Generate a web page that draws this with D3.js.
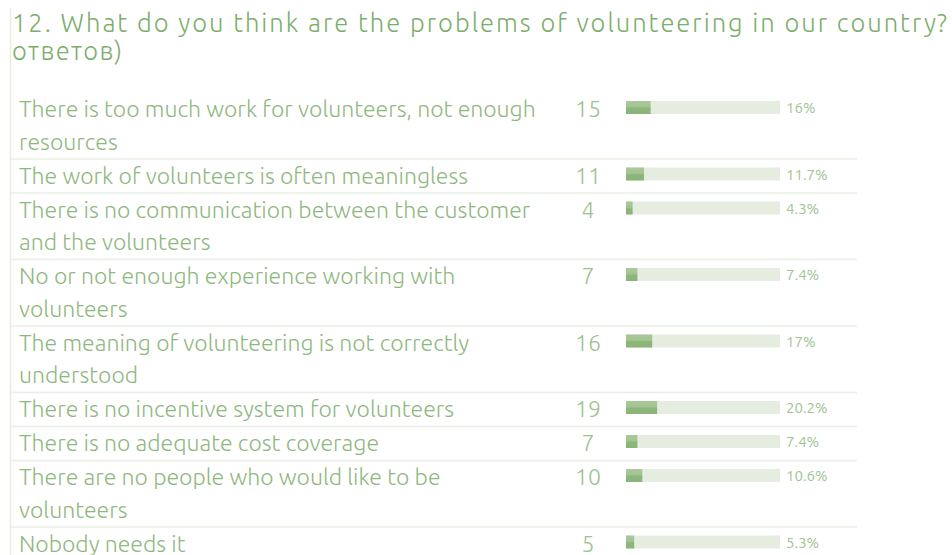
<!DOCTYPE html>
<html><head><meta charset="utf-8">
<script src="https://cdn.jsdelivr.net/npm/d3@7"></script>
<style>
html,body{margin:0;padding:0;background:#fff;}
svg{display:block;}
</style></head>
<body>
<script>
const titleLines = ["12. What do you think are the problems of volunteering in our country?", "ответов)"];
const categories = [
  "There is too much work for volunteers, not enough\nresources",
  "The work of volunteers is often meaningless",
  "There is no communication between the customer\nand the volunteers",
  "No or not enough experience working with\nvolunteers",
  "The meaning of volunteering is not correctly\nunderstood",
  "There is no incentive system for volunteers",
  "There is no adequate cost coverage",
  "There are no people who would like to be\nvolunteers",
  "Nobody needs it"
];
const counts = [15, 11, 4, 7, 16, 19, 7, 10, 5];
const percents = [16, 11.7, 4.3, 7.4, 17, 20.2, 7.4, 10.6, 5.3];
const percentLabels = ["16%", "11.7%", "4.3%", "7.4%", "17%", "20.2%", "7.4%", "10.6%", "5.3%"];

const W = 952, H = 555;
const svg = d3.select("body").append("svg").attr("width", W).attr("height", H);
const defs = svg.append("defs");
const grad = defs.append("linearGradient").attr("id","barGrad").attr("x1",0).attr("y1",0).attr("x2",0).attr("y2",1);
grad.append("stop").attr("offset","0%").attr("stop-color","#a9c999");
grad.append("stop").attr("offset","45%").attr("stop-color","#a3c492");
grad.append("stop").attr("offset","55%").attr("stop-color","#8cb67a");
grad.append("stop").attr("offset","100%").attr("stop-color","#8ab478");

const FONT = "Ubuntu, 'Open Sans', 'Noto Sans', sans-serif";

// left border
svg.append("line").attr("x1",10.5).attr("x2",10.5).attr("y1",8).attr("y2",H)
  .attr("stroke","#e6eee2").attr("stroke-width",1.5);

// title
svg.append("text").attr("x",12).attr("y",32).attr("fill","#7cae6b")
  .attr("font-family",FONT).attr("font-size",25.5).attr("font-weight",300)
  .attr("textLength",935).attr("lengthAdjust","spacing")
  .text(titleLines[0]);
svg.append("text").attr("x",12).attr("y",60).attr("fill","#7cae6b")
  .attr("font-family",FONT).attr("font-size",25.5).attr("font-weight",300)
  .attr("letter-spacing",1.3)
  .text(titleLines[1]);

// row layout
const lineH = 32.5, pad = 1.5;
const rows = categories.map((c,i)=>({label:c, lines:c.split("\n"), count:counts[i], pct:percents[i], pctLabel:percentLabels[i]}));
let y0 = 92;
rows.forEach(r=>{ r.top = y0; r.h = r.lines.length*lineH + pad; y0 += r.h; });

const x = d3.scaleLinear().domain([0,100]).range([626, 780]);

const g = svg.append("g");
const row = g.selectAll("g.row").data(rows).join("g").attr("class","row")
  .attr("transform", d=>`translate(0,${d.top})`);

row.filter((d,i)=>i>0).append("line")
  .attr("x1",10).attr("x2",857).attr("y1",0.5).attr("y2",0.5)
  .attr("stroke","#e9efe6").attr("stroke-width",1.5);

// labels
row.append("text").attr("fill","#8fb880").attr("font-family",FONT).attr("font-size",23)
  .attr("font-weight",300)
  .selectAll("tspan").data(d=>d.lines).join("tspan")
  .attr("x",19).attr("y",(d,i)=>25 + i*lineH).text(d=>d);

// counts
row.append("text").attr("x",588).attr("y",25).attr("text-anchor","middle")
  .attr("fill","#9cc18d").attr("font-family",FONT).attr("font-size",23).attr("font-weight",300)
  .text(d=>d.count);

// track
row.append("rect").attr("x",x(0)).attr("y",9).attr("height",13)
  .attr("width",x(100)-x(0)).attr("fill","#e4ede0");
// fill
row.append("rect").attr("x",x(0)).attr("y",9).attr("height",13)
  .attr("width",d=>x(d.pct)-x(0)).attr("fill","url(#barGrad)");

// percent labels
row.append("text").attr("x",786).attr("y",21).attr("fill","#a0c492")
  .attr("font-family",FONT).attr("font-size",15)
  .text(d=>d.pctLabel);
</script>
</body></html>
